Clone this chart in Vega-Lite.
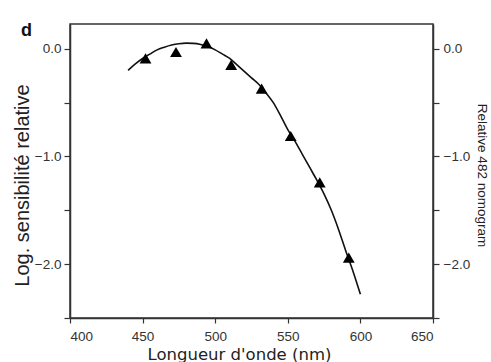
{
  "$schema": "https://vega.github.io/schema/vega-lite/v6.json",
  "width": 363,
  "height": 294,
  "autosize": {"type": "none"},
  "padding": {"left": 70, "top": 24, "right": 58, "bottom": 44},
  "background": "white",
  "title": {"text": "d", "anchor": "start", "frame": "group", "dx": -49, "offset": -30, "baseline": "alphabetic", "font": "Liberation Sans", "fontSize": 18, "fontWeight": "bold", "color": "#111"},
  "config": {
    "view": {"stroke": "#333", "strokeWidth": 1.5},
    "axis": {"labelFont": "Liberation Sans", "titleFont": "Liberation Sans", "labelColor": "#333", "titleColor": "#222", "domainColor": "#333", "tickColor": "#333", "domainWidth": 1.5, "tickWidth": 1.2, "grid": false, "titleFontWeight": "normal"}
  },
  "datasets": {
    "curve": [
      {"nm": 440, "v": -0.20}, {"nm": 445, "v": -0.14}, {"nm": 450, "v": -0.09}, {"nm": 455, "v": -0.05},
      {"nm": 460, "v": -0.01}, {"nm": 465, "v": 0.015}, {"nm": 470, "v": 0.035}, {"nm": 475, "v": 0.047},
      {"nm": 480, "v": 0.052}, {"nm": 485, "v": 0.05}, {"nm": 490, "v": 0.04}, {"nm": 495, "v": 0.02},
      {"nm": 500, "v": -0.01}, {"nm": 505, "v": -0.05}, {"nm": 510, "v": -0.09}, {"nm": 515, "v": -0.15},
      {"nm": 520, "v": -0.21}, {"nm": 525, "v": -0.27}, {"nm": 530, "v": -0.33}, {"nm": 535, "v": -0.41},
      {"nm": 540, "v": -0.50}, {"nm": 545, "v": -0.62}, {"nm": 550, "v": -0.75}, {"nm": 555, "v": -0.86},
      {"nm": 560, "v": -0.98}, {"nm": 565, "v": -1.10}, {"nm": 570, "v": -1.22}, {"nm": 575, "v": -1.35},
      {"nm": 580, "v": -1.50}, {"nm": 585, "v": -1.68}, {"nm": 590, "v": -1.88}, {"nm": 595, "v": -2.07},
      {"nm": 600, "v": -2.28}
    ],
    "points": [
      {"nm": 452, "v": -0.09}, {"nm": 473, "v": -0.03}, {"nm": 494, "v": 0.05}, {"nm": 511, "v": -0.15},
      {"nm": 532, "v": -0.37}, {"nm": 552, "v": -0.81}, {"nm": 572, "v": -1.24}, {"nm": 592, "v": -1.94}
    ]
  },
  "layer": [
    {
      "data": {"name": "curve"},
      "mark": {"type": "line", "color": "#111", "strokeWidth": 1.6, "interpolate": "monotone"},
      "encoding": {
        "x": {"field": "nm", "type": "quantitative", "scale": {"domain": [400, 650], "nice": false},
          "axis": {"values": [400, 450, 500, 550, 600, 650], "title": "Longueur d'onde (nm)", "titleFont": "DejaVu Sans", "titleFontSize": 16.5, "titleX": 169, "titleY": 41, "titleBaseline": "alphabetic", "labelFontSize": 13.5, "tickSize": 5, "labelPadding": 6}},
        "y": {"field": "v", "type": "quantitative", "scale": {"domain": [-2.5, 0.23], "nice": false, "zero": false},
          "axis": {"orient": "left", "values": [0, -0.5, -1, -1.5, -2, -2.5], "labelExpr": "datum.value % 1 == 0 ? format(datum.value, '.1f') : ''", "title": "Log. sensibilité relative", "titleFontSize": 20, "titleX": -42, "titleY": 161, "titleBaseline": "alphabetic", "labelFontSize": 13.5, "tickSize": 6, "labelPadding": 3}}
      }
    },
    {
      "data": {"name": "points"},
      "mark": {"type": "point", "shape": "triangle-up", "filled": true, "color": "#000", "size": 140, "opacity": 1},
      "encoding": {
        "x": {"field": "nm", "type": "quantitative"},
        "y": {"field": "v", "type": "quantitative", "scale": {"domain": [-2.5, 0.23], "nice": false, "zero": false},
          "axis": {"orient": "right", "values": [0, -0.5, -1, -1.5, -2, -2.5], "labelExpr": "datum.value % 1 == 0 ? format(datum.value, '.1f') : ''", "title": "Relative 482 nomogram", "titleFontSize": 13.5, "titleAngle": 90, "titleX": 44, "titleY": 151, "titleBaseline": "alphabetic", "labelFontSize": 13.5, "tickSize": 6, "labelPadding": 4}}
      }
    }
  ],
  "resolve": {"scale": {"y": "independent"}, "axis": {"y": "independent"}}
}
